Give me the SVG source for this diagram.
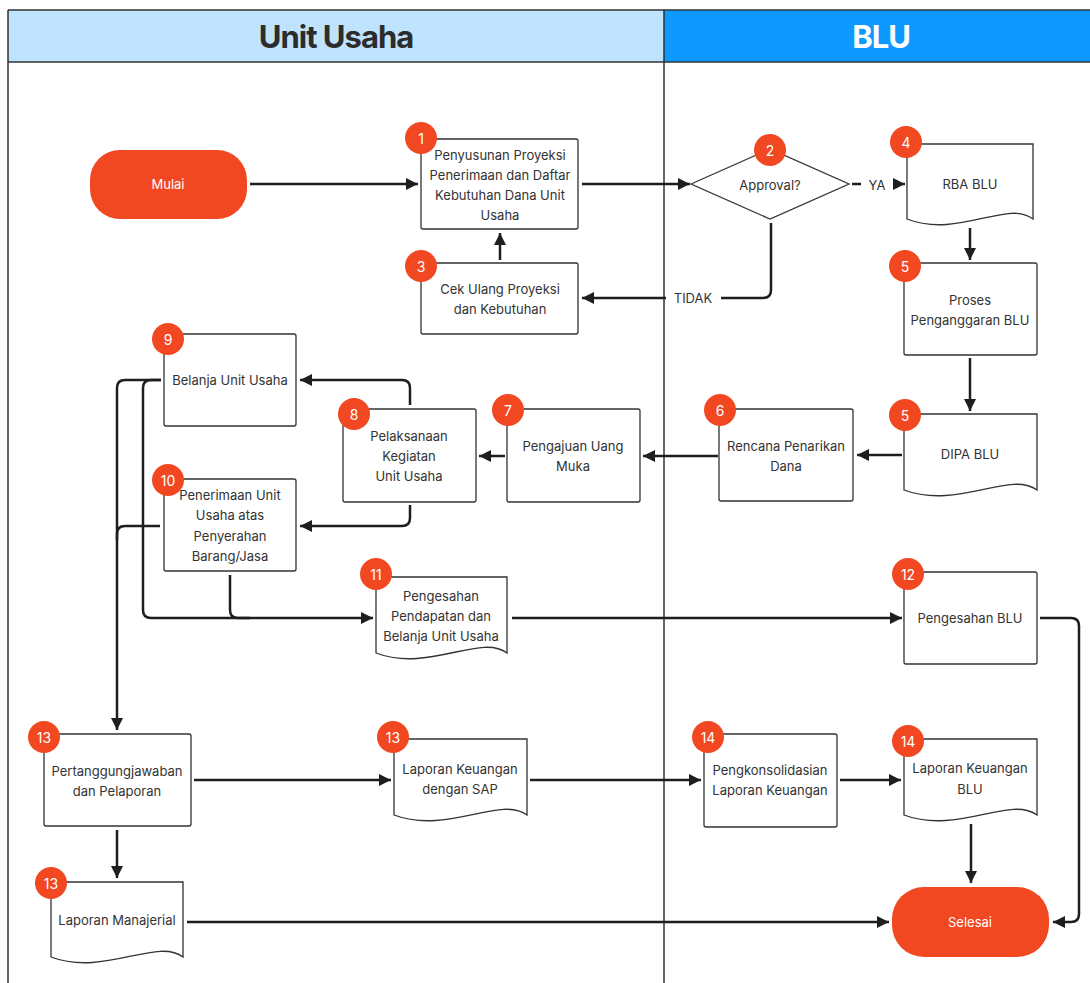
<svg xmlns="http://www.w3.org/2000/svg" width="1090" height="983" viewBox="0 0 1090 983">
<defs>
<style>
.t{font-family:Inter,"Noto Sans","Liberation Sans",sans-serif;font-size:13px;fill:#333;text-anchor:middle;dominant-baseline:central}
.w{fill:#fff}
.bt{font-family:Inter,"Noto Sans","Liberation Sans",sans-serif;font-size:14px;fill:#fff;text-anchor:middle;dominant-baseline:central}
.box{fill:#fff;stroke:#333;stroke-width:1.3}
.term{fill:#F24822}
.badge{fill:#F24822}
.c{fill:none;stroke:#1e1e1e;stroke-width:2.5}
.a{marker-end:url(#ah)}
.lane{stroke:#333;stroke-width:1.5;fill:none}
.hd{font-family:Inter,"Noto Sans","Liberation Sans",sans-serif;font-size:31px;font-weight:700;text-anchor:middle;dominant-baseline:central;letter-spacing:-1px}
</style>
<marker id="ah" viewBox="0 0 12 12" refX="12" refY="6" markerWidth="12" markerHeight="12" markerUnits="userSpaceOnUse" orient="auto">
<path d="M0,0 L12,6 L0,12 z" fill="#1e1e1e"/>
</marker>
</defs>
<rect width="1090" height="983" fill="#fff"/>
<g id="lanes">
<rect x="8" y="10" width="656" height="52" fill="#BFE3FC"/>
<rect x="664" y="10" width="426" height="52" fill="#0D99FF"/>
<path class="lane" d="M8,10 H1090 M8,62 H1090 M8,10 V983 M664,10 V983"/>
<text class="hd" x="336" y="36" fill="#2c2c2c">Unit Usaha</text>
<text class="hd" x="881" y="36" fill="#fff">BLU</text>
</g>
<g id="connectors">
<path class="c a" d="M250,184 H418"/>
<path class="c a" d="M500,260 V233"/>
<path class="c a" d="M582,184 H690"/>
<path class="c a" d="M852,184 H905"/>
<path class="c a" d="M771,223 V290 Q771,298 763,298 H582"/>
<path class="c a" d="M970,228 V260"/>
<path class="c a" d="M970,358 V411"/>
<path class="c a" d="M902,455 H857"/>
<path class="c a" d="M718,456 H643"/>
<path class="c a" d="M505,456 H479"/>
<path class="c a" d="M410,405 V388 Q410,380 402,380 H300"/>
<path class="c a" d="M410,505 V518 Q410,526 402,526 H300"/>
<path class="c a" d="M161,380 H125 Q117,380 117,388 V730"/>
<path class="c a" d="M161,380 H151 Q143,380 143,388 V610 Q143,618 151,618 H373"/>
<path class="c" d="M160,526 H125 Q117,526 117,534 V540"/>
<path class="c" d="M230,575 V610 Q230,618 238,618 H250"/>
<path class="c a" d="M512,618 H902"/>
<path class="c a" d="M1040,618 H1071 Q1079,618 1079,626 V914 Q1079,922 1071,922 H1053"/>
<path class="c a" d="M194,780 H391"/>
<path class="c a" d="M530,780 H701"/>
<path class="c a" d="M840,780 H901"/>
<path class="c a" d="M971,824 V883"/>
<path class="c a" d="M117,830 V878"/>
<path class="c a" d="M187,922 H889"/>
<rect x="861" y="174" width="32" height="20" fill="#fff"/>
<text class="t" x="877" y="185">YA</text>
<rect x="666" y="288" width="55" height="20" fill="#fff"/>
<text class="t" x="693" y="298">TIDAK</text>
</g>
<g id="mulai">
<rect class="term" x="90" y="150" width="157" height="69" rx="30"/>
<text class="t w" x="168" y="184">Mulai</text>
</g>
<g id="n1">
<rect class="box" x="421" y="139" width="157" height="90" rx="2"/>
<text class="t" x="500" y="155">Penyusunan Proyeksi</text>
<text class="t" x="500" y="175">Penerimaan dan Daftar</text>
<text class="t" x="500" y="195">Kebutuhan Dana Unit</text>
<text class="t" x="500" y="215">Usaha</text>
<circle class="badge" cx="421" cy="138" r="16"/><text class="bt" x="421" y="138">1</text>
</g>
<g id="n2">
<path class="box" d="M691,184 L770,149 L849,184 L770,219 Z"/>
<text class="t" x="770" y="185">Approval?</text>
<circle class="badge" cx="770" cy="150" r="16"/><text class="bt" x="770" y="150">2</text>
</g>
<g id="n3">
<rect class="box" x="421" y="263" width="157" height="71" rx="2"/>
<text class="t" x="500" y="289">Cek Ulang Proyeksi</text>
<text class="t" x="500" y="309">dan Kebutuhan</text>
<circle class="badge" cx="421" cy="266" r="16"/><text class="bt" x="421" y="266">3</text>
</g>
<g id="n4">
<path class="box" d="M907,144 H1033 V219 C1008,199 958,239 907,219 Z"/>
<text class="t" x="970" y="184">RBA BLU</text>
<circle class="badge" cx="906" cy="142" r="16"/><text class="bt" x="906" y="142">4</text>
</g>
<g id="n5a">
<rect class="box" x="904" y="263" width="133" height="92" rx="2"/>
<text class="t" x="970" y="300">Proses</text>
<text class="t" x="970" y="320">Penganggaran BLU</text>
<circle class="badge" cx="905" cy="266" r="16"/><text class="bt" x="905" y="266">5</text>
</g>
<g id="n5b">
<path class="box" d="M904,414 H1037 V490 C1010,470 957,510 904,490 Z"/>
<text class="t" x="970" y="454">DIPA BLU</text>
<circle class="badge" cx="905" cy="415" r="16"/><text class="bt" x="905" y="415">5</text>
</g>
<g id="n6">
<rect class="box" x="719" y="409" width="134" height="92" rx="2"/>
<text class="t" x="786" y="446">Rencana Penarikan</text>
<text class="t" x="786" y="466">Dana</text>
<circle class="badge" cx="720" cy="410" r="16"/><text class="bt" x="720" y="410">6</text>
</g>
<g id="n7">
<rect class="box" x="507" y="409" width="133" height="93" rx="2"/>
<text class="t" x="573" y="446">Pengajuan Uang</text>
<text class="t" x="573" y="466">Muka</text>
<circle class="badge" cx="508" cy="410" r="16"/><text class="bt" x="508" y="410">7</text>
</g>
<g id="n8">
<rect class="box" x="343" y="409" width="133" height="93" rx="2"/>
<text class="t" x="409" y="436">Pelaksanaan</text>
<text class="t" x="409" y="456">Kegiatan</text>
<text class="t" x="409" y="476">Unit Usaha</text>
<circle class="badge" cx="354" cy="414" r="16"/><text class="bt" x="354" y="414">8</text>
</g>
<g id="n9">
<rect class="box" x="164" y="334" width="132" height="92" rx="2"/>
<text class="t" x="230" y="380">Belanja Unit Usaha</text>
<circle class="badge" cx="168" cy="339" r="16"/><text class="bt" x="168" y="339">9</text>
</g>
<g id="n10">
<rect class="box" x="164" y="479" width="132" height="92" rx="2"/>
<text class="t" x="230" y="495">Penerimaan Unit</text>
<text class="t" x="230" y="515">Usaha atas</text>
<text class="t" x="230" y="536">Penyerahan</text>
<text class="t" x="230" y="556">Barang/Jasa</text>
<circle class="badge" cx="168" cy="480" r="16"/><text class="bt" x="168" y="480">10</text>
</g>
<g id="n11">
<path class="box" d="M376,577 H507 V653 C481,633 428,673 376,653 Z"/>
<text class="t" x="441" y="596">Pengesahan</text>
<text class="t" x="441" y="616">Pendapatan dan</text>
<text class="t" x="441" y="636">Belanja Unit Usaha</text>
<circle class="badge" cx="376" cy="574" r="16"/><text class="bt" x="376" y="574">11</text>
</g>
<g id="n12">
<rect class="box" x="904" y="572" width="133" height="92" rx="2"/>
<text class="t" x="970" y="618">Pengesahan BLU</text>
<circle class="badge" cx="908" cy="574" r="16"/><text class="bt" x="908" y="574">12</text>
</g>
<g id="n13a">
<rect class="box" x="44" y="734" width="147" height="92" rx="2"/>
<text class="t" x="117" y="771">Pertanggungjawaban</text>
<text class="t" x="117" y="791">dan Pelaporan</text>
<circle class="badge" cx="44" cy="737" r="16"/><text class="bt" x="44" y="737">13</text>
</g>
<g id="n13b">
<path class="box" d="M394,739 H527 V815 C500,795 447,835 394,815 Z"/>
<text class="t" x="460" y="769">Laporan Keuangan</text>
<text class="t" x="460" y="789">dengan SAP</text>
<circle class="badge" cx="393" cy="737" r="16"/><text class="bt" x="393" y="737">13</text>
</g>
<g id="n13c">
<path class="box" d="M51,882 H183 V957 C157,937 104,977 51,957 Z"/>
<text class="t" x="117" y="920">Laporan Manajerial</text>
<circle class="badge" cx="51" cy="883" r="16"/><text class="bt" x="51" y="883">13</text>
</g>
<g id="n14a">
<rect class="box" x="704" y="734" width="133" height="93" rx="2"/>
<text class="t" x="770" y="770">Pengkonsolidasian</text>
<text class="t" x="770" y="790">Laporan Keuangan</text>
<circle class="badge" cx="708" cy="737" r="16"/><text class="bt" x="708" y="737">14</text>
</g>
<g id="n14b">
<path class="box" d="M904,739 H1037 V815 C1010,795 957,835 904,815 Z"/>
<text class="t" x="970" y="768">Laporan Keuangan</text>
<text class="t" x="970" y="789">BLU</text>
<circle class="badge" cx="908" cy="741" r="16"/><text class="bt" x="908" y="741">14</text>
</g>
<g id="selesai">
<rect class="term" x="892" y="887" width="157" height="70" rx="32"/>
<text class="t w" x="970" y="922">Selesai</text>
</g>
</svg>
